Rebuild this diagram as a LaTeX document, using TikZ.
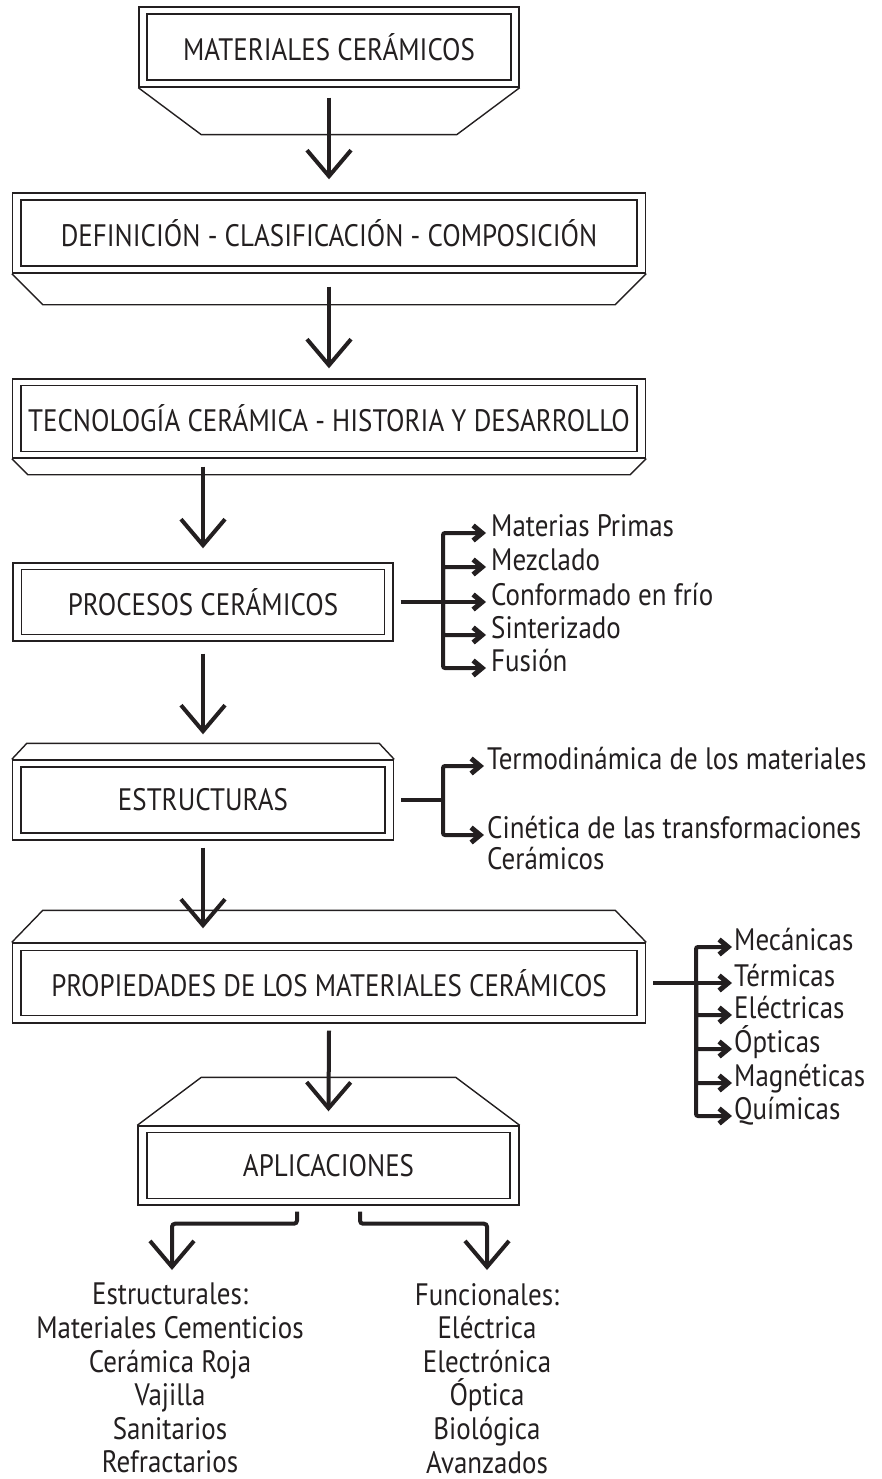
\documentclass[tikz,border=0pt]{standalone}
\usepackage{fontspec}
\setmainfont{PT Sans}[FakeStretch=0.87]
\usetikzlibrary{arrows.meta,calc}
\definecolor{ink}{HTML}{231F20}
\newcommand\bxfnt{\fontsize{31}{34}\selectfont}
\newcommand\lbfnt{\fontsize{31}{33.6}\selectfont}
\begin{document}
\begin{tikzpicture}[x=1pt,y=-1pt,
  thinl/.style={draw=ink, line width=1.4pt},
  outerbox/.style={thinl, rectangle, inner sep=0pt},
  innerbox/.style={thinl, rectangle, inner sep=0pt, font=\bxfnt, text=ink},
  mainarr/.style={draw=ink, line width=4pt, -{Straight Barb[length=26pt,width=44pt]}},
  brarr/.style={draw=ink, line width=4pt, -{Straight Barb[length=9pt,width=15pt,line width=5pt]}, rounded corners=2pt},
  lab/.style={anchor=west, inner sep=0pt, text height=0.68em, text depth=0pt, font=\lbfnt, text=ink},
  listtxt/.style={anchor=north, inner sep=0pt, align=center, font=\lbfnt, text=ink}
]
\useasboundingbox (0,0) rectangle (881,1479);

% boxes
\node[outerbox, minimum width=380pt, minimum height=80pt] (o1) at (329,47) {};
\node[innerbox, minimum width=364pt, minimum height=66pt] (b1) at (o1) {MATERIALES CERÁMICOS};
\draw[thinl] (o1.south west) -- ++(63,47) -- ($(o1.south east)+(-63,47)$) -- (o1.south east);

\node[outerbox, minimum width=633pt, minimum height=80pt] (o2) at (329,233) {};
\node[innerbox, minimum width=616pt, minimum height=66pt] (b2) at (o2) {DEFINICIÓN - CLASIFICACIÓN - COMPOSICIÓN};
\draw[thinl] (o2.south west) -- ++(31,31) -- ($(o2.south east)+(-31,31)$) -- (o2.south east);

\node[outerbox, minimum width=633pt, minimum height=79pt] (o3) at (329,418.5) {};
\node[innerbox, minimum width=616pt, minimum height=66pt] (b3) at (o3) {TECNOLOGÍA CERÁMICA - HISTORIA Y DESARROLLO};
\draw[thinl] (o3.south west) -- ++(16,16) -- ($(o3.south east)+(-16,16)$) -- (o3.south east);

\node[outerbox, minimum width=380pt, minimum height=78pt] (o4) at (203,602) {};
\node[innerbox, minimum width=363pt, minimum height=65pt] (b4) at (o4) {PROCESOS CERÁMICOS};

\node[outerbox, minimum width=381pt, minimum height=80pt] (o5) at (203,800) {};
\node[innerbox, minimum width=364pt, minimum height=66pt] (b5) at (o5) {ESTRUCTURAS};
\draw[thinl] (o5.north west) -- ++(15,-16) -- ($(o5.north east)+(-15,-16)$) -- (o5.north east);

\node[outerbox, minimum width=633pt, minimum height=80pt] (o6) at (329,983) {};
\node[innerbox, minimum width=616pt, minimum height=65pt] (b6) at (o6) {PROPIEDADES DE LOS MATERIALES CERÁMICOS};
\draw[thinl] (o6.north west) -- ++(31,-32) -- ($(o6.north east)+(-31,-32)$) -- (o6.north east);

\node[outerbox, minimum width=381pt, minimum height=79pt] (o7) at (328.5,1165.5) {};
\node[innerbox, minimum width=363pt, minimum height=66pt] (b7) at (o7) {APLICACIONES};
\draw[thinl] (o7.north west) -- ++(64,-48) -- ($(o7.north east)+(-64,-48)$) -- (o7.north east);

% main arrows
\draw[mainarr] ($(o1.south)+(0,10)$) -- ($(o2.north)+(0,-13)$);
\draw[mainarr] ($(o2.south)+(0,13)$) -- ($(o3.north)+(0,-10)$);
\draw[mainarr] ($(o3.south -| o4.north)+(0,8)$) -- ($(o4.north)+(0,-14)$);
\draw[mainarr] ($(o4.south)+(0,12)$) -- ($(o5.north)+(0,-25)$);
\draw[mainarr] ($(o5.south)+(0,7)$) -- ($(o6.north -| o5.south)+(0,-14)$);
\draw[mainarr] ($(o6.south)+(0,7)$) -- ($(o7.north)+(0,-14)$);

% procesos list
\coordinate (j1) at (443,602);
\node[lab] (p1) at (491,533) {Materias Primas};
\node[lab] (p2) at (491,567) {Mezclado};
\node[lab] (p3) at (491,602) {Conformado en frío};
\node[lab] (p4) at (491,635) {Sinterizado};
\node[lab] (p5) at (491,668) {Fusión};
\draw[brarr] ($(o4.east)+(7,0)$) -- ($(p3.west)+(-5,0)$);
\foreach \t in {p1,p2,p4,p5} \draw[brarr] (j1) |- ($(\t.west)+(-5,0)$);

% estructuras list
\coordinate (j3) at (443,800);
\node[lab] (s1) at (487,766) {Termodinámica de los materiales};
\node[lab] (s2) at (487,835) {Cinética de las transformaciones};
\node[lab, anchor=north west] (s2b) at ($(s2.south west)+(0,24)$) {Cerámicos};
\draw[draw=ink, line width=4pt] ($(o5.east)+(7,0)$) -- (j3);
\foreach \t in {s1,s2} \draw[brarr] (j3) |- ($(\t.west)+(-3,0)$);

% propiedades list
\coordinate (j2) at (696,983);
\node[lab] (q1) at (734,947) {Mecánicas};
\node[lab] (q2) at (734,983) {Térmicas};
\node[lab] (q3) at (734,1015) {Eléctricas};
\node[lab] (q4) at (734,1049) {Ópticas};
\node[lab] (q5) at (734,1083) {Magnéticas};
\node[lab] (q6) at (734,1116) {Químicas};
\draw[brarr] ($(o6.east)+(7,0)$) -- ($(q2.west)+(-2,0)$);
\foreach \t in {q1,q3,q4,q5,q6} \draw[brarr] (j2) |- ($(\t.west)+(-2,0)$);

% aplicaciones lists
\node[listtxt] (es) at (170,1283) {Estructurales:\\Materiales Cementicios\\Cerámica Roja\\Vajilla\\Sanitarios\\Refractarios};
\node[listtxt] (fu) at (487,1283) {Funcionales:\\Eléctrica\\Electrónica\\Óptica\\Biológica\\Avanzados};
\draw[mainarr, rounded corners=3pt] ($(o7.south)+(-31.5,6)$) -- ++(0,12) -| ($(es.north)+(2,-13)$);
\draw[mainarr, rounded corners=3pt] ($(o7.south)+(31.5,6)$) -- ++(0,12) -| ($(fu.north)+(0,-13)$);
\end{tikzpicture}
\end{document}
